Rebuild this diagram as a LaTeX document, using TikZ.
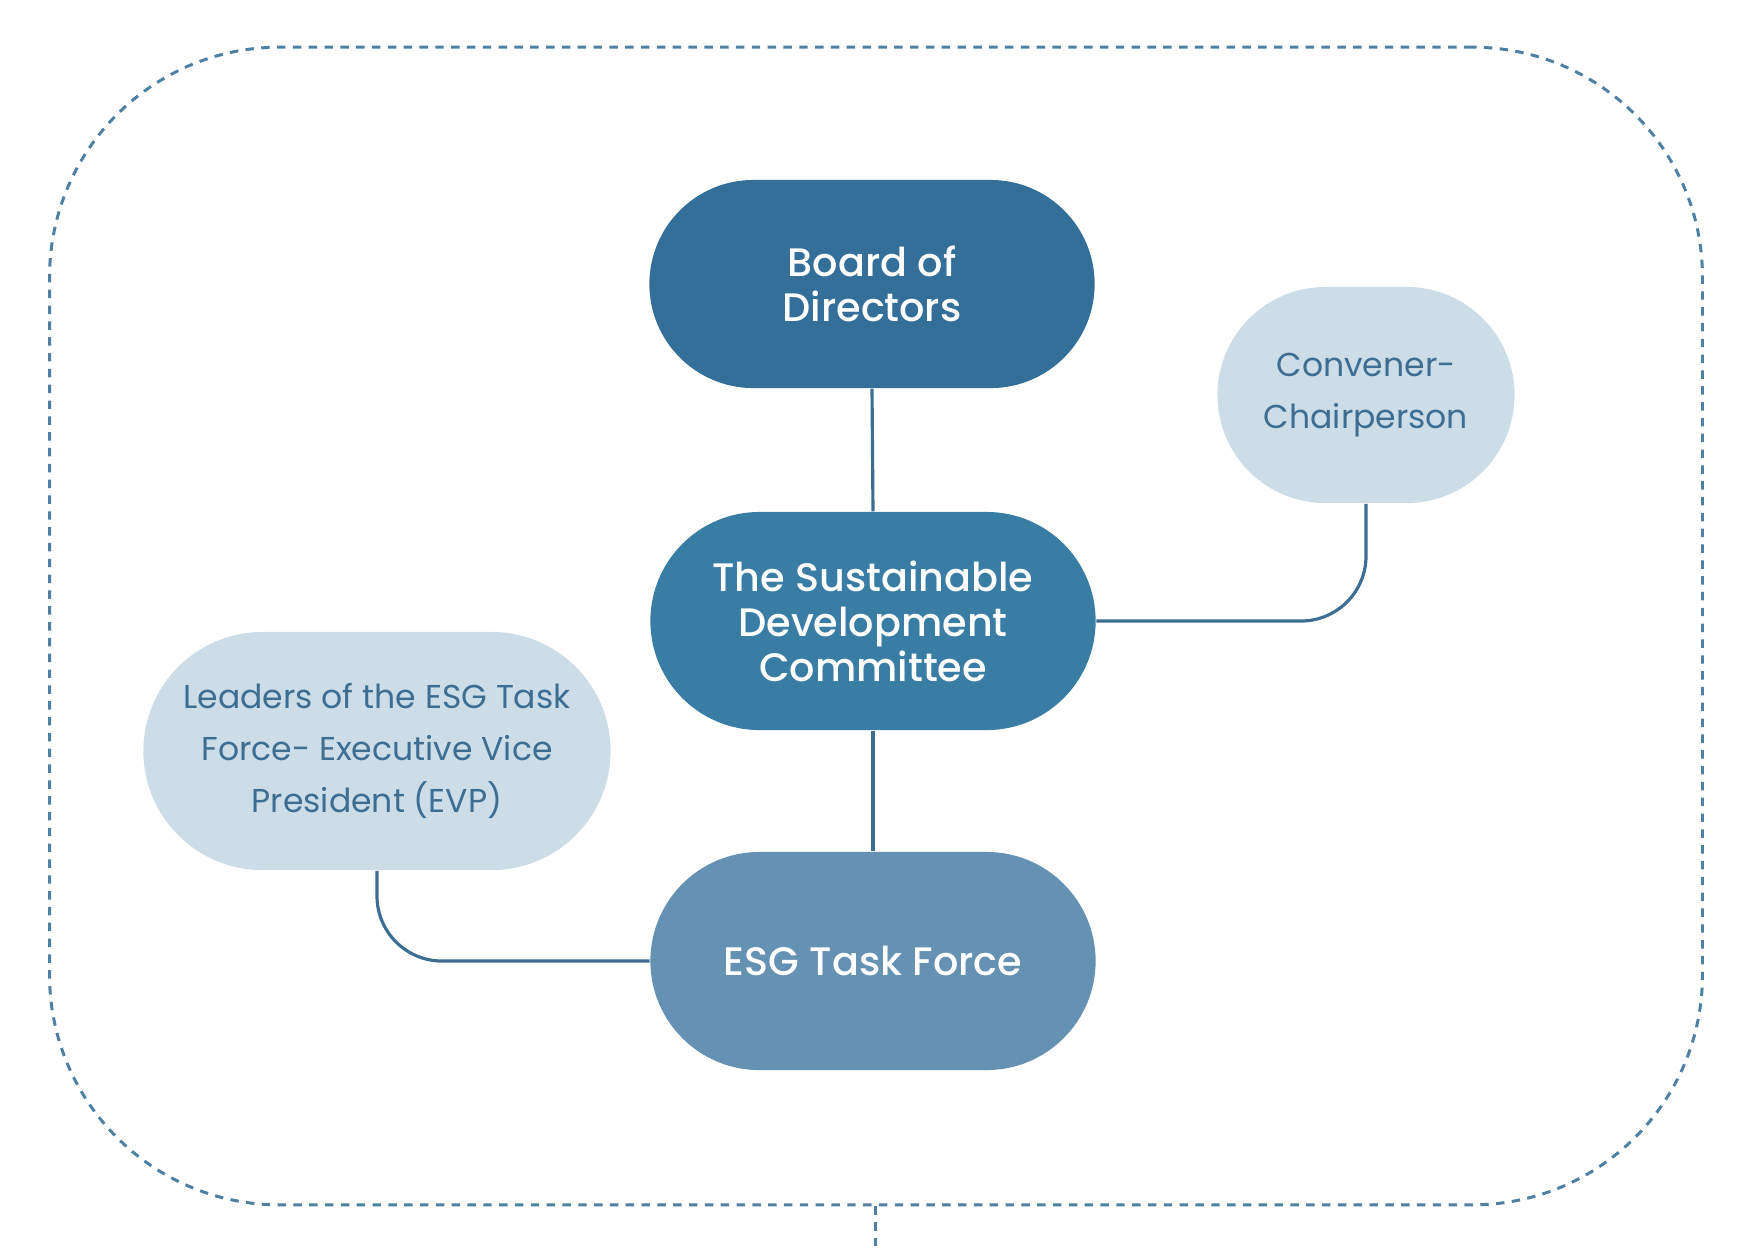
\documentclass[tikz,border=0pt]{standalone}
\usepackage{fontspec}
\setmainfont{Poppins}
\newfontfamily\bodyfont{Poppins Medium}
\usepackage{xcolor}
\usetikzlibrary{positioning}

\definecolor{boardblue}{HTML}{336F99}
\definecolor{sdcblue}{HTML}{3A7DA4}
\definecolor{taskblue}{HTML}{6591B2}
\definecolor{paleblue}{HTML}{CCDDE7}
\definecolor{inkblue}{HTML}{3D6E92}
\definecolor{framecol}{HTML}{4F80A2}

\begin{document}
\begin{tikzpicture}[x=0.01cm,y=-0.01cm,
  body/.style={rounded corners=1.04cm,minimum width=4.45cm,minimum height=2.08cm,
               align=center,text=white,font=\bodyfont\fontsize{11.3}{12.8}\selectfont},
  role/.style={fill=paleblue,align=center,text=inkblue,
               font=\fontsize{9.4}{14.7}\selectfont},
  link/.style={draw=inkblue,line width=0.9pt},
  frame/.style={draw=framecol,dashed,dash pattern=on 2.4pt off 2.1pt,line width=0.85pt}
]
\useasboundingbox (0,0) rectangle (1739,1253);

% outer frame
\node[frame,rounded corners=2.3cm,minimum width=16.52cm,minimum height=11.57cm] (frame) at (876,626) {};
\coordinate (stub) at (875,1250);
\draw[frame] (frame.south -| stub) -- (stub);

% main bodies
\node[body,fill=boardblue] (board) at (872,284) {Board of\\Directors};
\node[body,fill=sdcblue,minimum height=2.18cm,rounded corners=1.09cm] (sdc) at (873,621)
  {The Sustainable\\Development\\Committee};
\node[body,fill=taskblue,minimum height=2.18cm,rounded corners=1.09cm] (task) at (873,961)
  {ESG Task Force};

% side roles
\node[role,minimum width=2.97cm,minimum height=2.16cm,rounded corners=1.08cm] (conv) at (1366,395)
  {Convener-\\Chairperson};
\node[role,minimum width=4.67cm,minimum height=2.38cm,rounded corners=1.19cm] (lead) at (377,751)
  {Leaders of the ESG Task\\Force- Executive Vice\\President (EVP)};

% connectors
\draw[link] (board.south)--(sdc.north);
\draw[link] (sdc.south)--(task.north);
\draw[link,rounded corners=0.65cm] (sdc.east) -| (conv.south);
\draw[link,rounded corners=0.65cm] (task.west) -| (lead.south);
\end{tikzpicture}
\end{document}
